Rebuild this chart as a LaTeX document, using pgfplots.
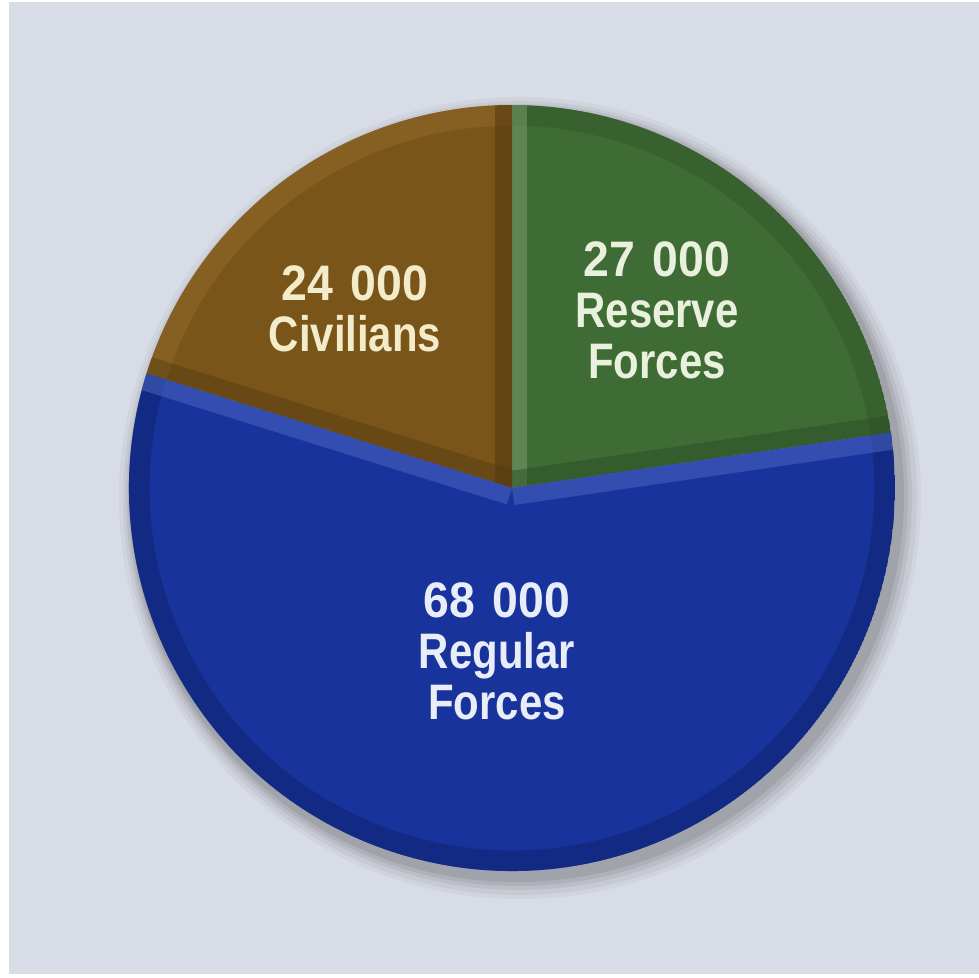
\documentclass[border=0pt]{standalone}
\usepackage{pgfplots}
\usepackage{pgfplotstable}
\pgfplotsset{compat=1.18}
\usepackage{fontspec}
\setmainfont{Liberation Sans}[FakeStretch=0.84]
\newfontfamily\numfont{Liberation Sans}[FakeStretch=0.93]
\definecolor{bgc}{HTML}{D8DCE6}
\definecolor{civ}{HTML}{7A5519}
\definecolor{civlt}{HTML}{A07A3A}
\definecolor{civdk}{HTML}{4E360E}
\definecolor{res}{HTML}{3F6C35}
\definecolor{reslt}{HTML}{7FA070}
\definecolor{resdk}{HTML}{2A4A22}
\definecolor{reg}{HTML}{18339B}
\definecolor{reglt}{HTML}{5C78D0}
\definecolor{regdk}{HTML}{0C1E66}
\definecolor{txtciv}{HTML}{F3ECCB}
\definecolor{txtres}{HTML}{E9F1DE}
\definecolor{txtreg}{HTML}{E8EDF8}
\pgfplotstableread{
label value
Reserve 27000
Civilians 24000
Regular 68000
}\piedata
\begin{document}
\begin{tikzpicture}
\pgfplotstablegetelem{0}{value}\of\piedata \let\vres\pgfplotsretval
\pgfplotstablegetelem{1}{value}\of\piedata \let\vciv\pgfplotsretval
\pgfplotstablegetelem{2}{value}\of\piedata \let\vreg\pgfplotsretval
\begingroup
\pgfkeys{/pgf/fpu=true,/pgf/fpu/output format=fixed}
\pgfmathparse{90-360*\vres/(\vres+\vciv+\vreg)}\xdef\aRes{\pgfmathresult}
\pgfmathparse{90+360*\vciv/(\vres+\vciv+\vreg)}\xdef\aCiv{\pgfmathresult}
\pgfmathparse{\aRes+360}\xdef\aReg{\pgfmathresult}
\endgroup
\def\R{3.912cm}
\begin{axis}[
  scale only axis, width=10cm, height=9.9898cm,
  xmin=0, xmax=979, ymin=0, ymax=978,
  hide axis, clip=false]
\addplot[draw=none, fill=white] coordinates {(0,0) (979,0) (979,978) (0,978)} -- cycle;
\addplot[draw=none, fill=bgc] coordinates {(9,4) (979,4) (979,976) (9,976)} -- cycle;
% soft shadow
\fill[black, opacity=0.035] (axis cs:520,480) circle[radius=4.096cm];
\fill[black, opacity=0.045] (axis cs:520,480) circle[radius=4.055cm];
\fill[black, opacity=0.055] (axis cs:519,481) circle[radius=4.014cm];
\fill[black, opacity=0.065] (axis cs:518,482) circle[radius=3.983cm];
\fill[black, opacity=0.075] (axis cs:517,483) circle[radius=3.953cm];
\coordinate (C) at (axis cs:512,490);
% Reserve
\begin{scope}
\clip (C) -- ++(90:\R) arc[start angle=90, end angle=\aRes, radius=\R] -- cycle;
\fill[res] (C) -- ++(90:\R) arc[start angle=90, end angle=\aRes, radius=\R] -- cycle;
\draw[line width=12pt, resdk, opacity=0.3] (C) ++(90:\R) arc[start angle=90, end angle=\aRes, radius=\R];
\draw[line width=9pt, reslt, opacity=0.5] (C) -- ++(90:\R);
\draw[line width=10pt, resdk, opacity=0.45] (C) -- ++(\aRes:\R);
\end{scope}
% Civilians
\begin{scope}
\clip (C) -- ++(90:\R) arc[start angle=90, end angle=\aCiv, radius=\R] -- cycle;
\fill[civ] (C) -- ++(90:\R) arc[start angle=90, end angle=\aCiv, radius=\R] -- cycle;
\draw[line width=12pt, civlt, opacity=0.3] (C) ++(90:\R) arc[start angle=90, end angle=\aCiv, radius=\R];
\draw[line width=10pt, civdk, opacity=0.5] (C) -- ++(90:\R);
\draw[line width=10pt, civdk, opacity=0.4] (C) -- ++(\aCiv:\R);
\end{scope}
% Regular
\begin{scope}
\clip (C) -- ++(\aCiv:\R) arc[start angle=\aCiv, end angle=\aReg, radius=\R] -- cycle;
\fill[reg] (C) -- ++(\aCiv:\R) arc[start angle=\aCiv, end angle=\aReg, radius=\R] -- cycle;
\draw[line width=12pt, regdk, opacity=0.4] (C) ++(\aCiv:\R) arc[start angle=\aCiv, end angle=\aReg, radius=\R];
\draw[line width=10pt, reglt, opacity=0.4] (C) -- ++(\aCiv:\R);
\draw[line width=10pt, reglt, opacity=0.4] (C) -- ++(\aRes:\R);
\end{scope}
\node[txtciv, align=center, font=\fontsize{14.5}{14.8}\selectfont\bfseries] at (axis cs:355,669) {{\numfont 24\hspace{5pt}000}\\Civilians};
\node[txtres, align=center, font=\fontsize{14.5}{14.8}\selectfont\bfseries] at (axis cs:657,668) {{\numfont 27\hspace{5pt}000}\\Reserve\\Forces};
\node[txtreg, align=center, font=\fontsize{14.5}{14.8}\selectfont\bfseries] at (axis cs:497,327) {{\numfont 68\hspace{5pt}000}\\Regular\\Forces};
\end{axis}
\end{tikzpicture}
\end{document}
